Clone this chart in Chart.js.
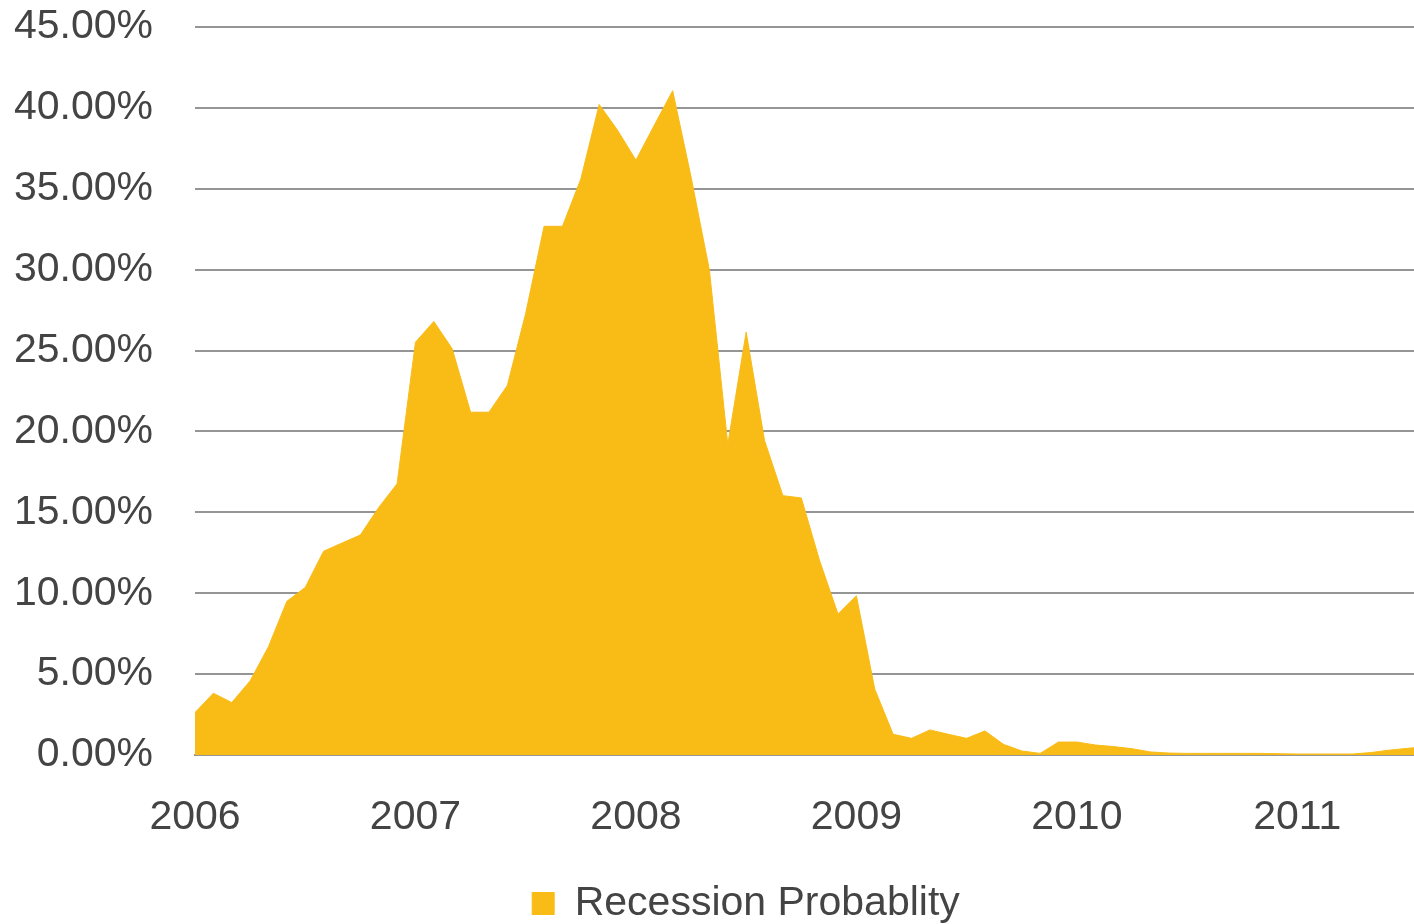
<!DOCTYPE html>
<html>
<head>
<meta charset="utf-8">
<title>Recession Probability</title>
<script src="https://cdn.jsdelivr.net/npm/chart.js@4/dist/chart.umd.min.js"></script>
<style>
  html, body { margin: 0; padding: 0; background: #ffffff; }
  #wrap { width: 1414px; height: 924px; }
</style>
</head>
<body>
<div id="wrap"><canvas id="chart" width="1414" height="924"></canvas></div>
<script>
// Monthly recession probability (%), Jan 2006 onward
const months = [
  '2006-01','2006-02','2006-03','2006-04','2006-05','2006-06','2006-07','2006-08','2006-09','2006-10','2006-11','2006-12',
  '2007-01','2007-02','2007-03','2007-04','2007-05','2007-06','2007-07','2007-08','2007-09','2007-10','2007-11','2007-12',
  '2008-01','2008-02','2008-03','2008-04','2008-05','2008-06','2008-07','2008-08','2008-09','2008-10','2008-11','2008-12',
  '2009-01','2009-02','2009-03','2009-04','2009-05','2009-06','2009-07','2009-08','2009-09','2009-10','2009-11','2009-12',
  '2010-01','2010-02','2010-03','2010-04','2010-05','2010-06','2010-07','2010-08','2010-09','2010-10','2010-11','2010-12',
  '2011-01','2011-02','2011-03','2011-04','2011-05','2011-06','2011-07','2011-08'
];
const probability = [
  2.62, 3.82, 3.24, 4.58, 6.70, 9.50, 10.36, 12.60, 13.10, 13.60, 15.30, 16.77,
  25.52, 26.80, 25.11, 21.19, 21.19, 22.84, 27.30, 32.68, 32.68, 35.60, 40.21, 38.62,
  36.77, 38.93, 41.06, 35.73, 29.96, 19.20, 26.14, 19.44, 16.03, 15.89, 12.00, 8.71,
  9.84, 4.07, 1.28, 1.03, 1.55, 1.28, 1.03, 1.49, 0.66, 0.25, 0.10, 0.80,
  0.80, 0.62, 0.52, 0.39, 0.19, 0.12, 0.10, 0.10, 0.10, 0.10, 0.10, 0.08,
  0.06, 0.06, 0.06, 0.06, 0.15, 0.30, 0.41, 0.52
];
const yearTicks = [2006, 2007, 2008, 2009, 2010, 2011];
const seriesName = 'Recession Probablity';

const startYear = yearTicks[0];
const points = months.map((m, i) => {
  const [y, mo] = m.split('-').map(Number);
  return { x: (y - startYear) * 12 + (mo - 1), y: probability[i] };
});
const tickMonths = yearTicks.map(y => (y - startYear) * 12);

const FONT = '"Liberation Sans", Arial, sans-serif';
const TEXT = '#444444';
const GRID = '#959595';
const FILL = '#F9BB16';

// Nudge the bottom legend right of the canvas centre and a little lower
const legendShift = {
  id: 'legendShift',
  afterLayout(chart) {
    const lg = chart.legend;
    if (lg) {
      lg.left += 32; lg.right += 32;
      lg.top += 10; lg.bottom += 10;
    }
  }
};

new Chart(document.getElementById('chart'), {
  type: 'line',
  plugins: [legendShift],
  data: {
    datasets: [{
      label: seriesName,
      data: points,
      backgroundColor: FILL,
      borderColor: FILL,
      borderWidth: 1,
      pointRadius: 0,
      tension: 0,
      fill: 'origin'
    }]
  },
  options: {
    responsive: false,
    animation: false,
    layout: { padding: { left: 14, right: 0, top: 27, bottom: 0 } },
    plugins: {
      tooltip: { enabled: false },
      legend: {
        position: 'bottom',
        labels: {
          boxWidth: 22,
          boxHeight: 22,
          color: TEXT,
          font: { family: FONT, size: 41 },
          padding: 4
        }
      }
    },
    scales: {
      x: {
        type: 'linear',
        min: 0,
        max: 66.35,
        z: 1,
        afterBuildTicks: (scale) => {
          scale.ticks = tickMonths.map(v => ({ value: v }));
        },
        afterFit: (scale) => { scale.height = 114; },
        ticks: {
          autoSkip: false,
          maxRotation: 0,
          minRotation: 0,
          color: TEXT,
          font: { family: FONT, size: 41 },
          padding: 38,
          callback: (v) => String(startYear + Math.round(v / 12))
        },
        grid: { display: false, drawTicks: false },
        border: { display: true, color: GRID, width: 2 }
      },
      y: {
        min: 0,
        max: 45,
        afterFit: (scale) => { scale.width = 181; },
        ticks: {
          stepSize: 5,
          color: TEXT,
          font: { family: FONT, size: 41 },
          padding: 0,
          callback: (v) => v.toFixed(2) + '%'
        },
        grid: {
          color: GRID,
          lineWidth: 2,
          drawTicks: true,
          tickLength: 42,
          tickColor: 'rgba(0,0,0,0)'
        },
        border: { display: false }
      }
    }
  }
});
</script>
</body>
</html>
